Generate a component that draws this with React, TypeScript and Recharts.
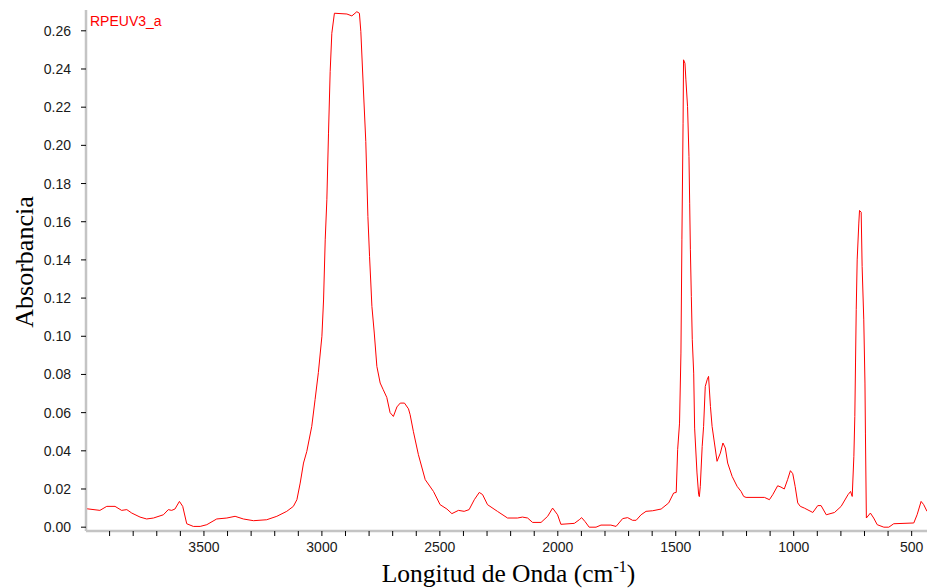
import React from "react";
import { LineChart, Line, XAxis, YAxis } from "recharts";

const wavenumbers: number[] = [
  4000, 3941, 3912, 3877, 3849, 3827, 3806, 3771, 3743, 3714, 3672, 3651, 3637, 3623, 3604, 3590, 3573, 3545, 3516, 3488,
  3446, 3403, 3368, 3333, 3290, 3234, 3191, 3149, 3121, 3106, 3092, 3078, 3064, 3043, 3029, 3015, 3000, 2993, 2986, 2979,
  2972, 2965, 2958, 2947, 2894, 2873, 2852, 2841, 2835, 2824, 2814, 2805, 2798, 2788, 2778, 2767, 2753, 2740, 2725, 2711,
  2697, 2682, 2668, 2650, 2633, 2626, 2612, 2591, 2562, 2527, 2499, 2470, 2449, 2421, 2397, 2376, 2354, 2333, 2319, 2298,
  2256, 2213, 2171, 2150, 2128, 2107, 2071, 2043, 2022, 2001, 1987, 1930, 1909, 1899, 1885, 1867, 1838, 1817, 1775, 1753,
  1725, 1704, 1683, 1668, 1647, 1626, 1598, 1562, 1530, 1509, 1498, 1492, 1484, 1478, 1474, 1469, 1467, 1461, 1457, 1450,
  1444, 1441, 1438, 1434, 1430, 1424, 1420, 1410, 1403, 1400, 1396, 1388, 1382, 1375, 1367, 1361, 1353, 1346, 1336, 1325,
  1311, 1300, 1290, 1280, 1261, 1240, 1223, 1212, 1202, 1124, 1103, 1089, 1068, 1054, 1040, 1026, 1014, 1004, 994, 983,
  972, 955, 919, 898, 884, 862, 827, 799, 770, 759, 752, 745, 741, 738, 735, 731, 724, 721, 714, 710,
  703, 698, 696, 692, 675, 661, 646, 618, 597, 576, 491, 477, 460, 449, 435,
];

const absorbance: number[] = [
  0.0097, 0.0088, 0.0109, 0.0109, 0.0088, 0.0092, 0.0074, 0.0053, 0.0043, 0.0048, 0.0065, 0.0092, 0.0088, 0.0095, 0.0135, 0.0109, 0.0018, 0.0004, 0.0004, 0.0013,
  0.0043, 0.0048, 0.0057, 0.0043, 0.0034, 0.0039, 0.0057, 0.0083, 0.0109, 0.0144, 0.0231, 0.0336, 0.0397, 0.0528, 0.0668, 0.081, 0.1, 0.119, 0.1505, 0.1715,
  0.2064, 0.2386, 0.2587, 0.2692, 0.2688, 0.2678, 0.27, 0.2692, 0.2596, 0.229, 0.202, 0.1627, 0.1418, 0.1156, 0.1017, 0.0842, 0.0755, 0.072, 0.068, 0.06,
  0.058, 0.063, 0.065, 0.065, 0.062, 0.0589, 0.05, 0.038, 0.0249, 0.0187, 0.0118, 0.0095, 0.0071, 0.0088, 0.0083, 0.0092, 0.0144, 0.0182, 0.0171, 0.0118,
  0.0083, 0.0048, 0.0048, 0.0053, 0.0048, 0.0025, 0.0025, 0.0057, 0.01, 0.0065, 0.0015, 0.002, 0.0039, 0.005, 0.003, 0.0, 0.0, 0.0011, 0.0011, 0.0004,
  0.0045, 0.005, 0.0036, 0.0036, 0.0065, 0.0083, 0.0086, 0.0095, 0.0127, 0.0179, 0.0182, 0.0406, 0.0545, 0.0912, 0.1505, 0.2116, 0.2448, 0.243, 0.2343, 0.2203,
  0.1941, 0.1697, 0.1453, 0.1208, 0.0982, 0.0807, 0.0519, 0.0284, 0.017, 0.016, 0.0214, 0.0423, 0.0528, 0.0737, 0.0772, 0.079, 0.0632, 0.0528, 0.0441, 0.0345,
  0.0388, 0.0441, 0.0415, 0.0336, 0.0266, 0.0214, 0.0187, 0.0161, 0.0156, 0.0156, 0.0144, 0.017, 0.0217, 0.021, 0.02, 0.0249, 0.0296, 0.028, 0.0214, 0.0127,
  0.0109, 0.01, 0.0077, 0.0113, 0.0113, 0.0065, 0.0077, 0.0109, 0.017, 0.0187, 0.0161, 0.0371, 0.058, 0.086, 0.1139, 0.14, 0.1593, 0.1659, 0.165, 0.1365,
  0.1086, 0.0755, 0.0493, 0.0048, 0.0074, 0.0048, 0.0013, 0.0, 0.0, 0.0018, 0.0022, 0.0065, 0.0135, 0.0118, 0.0083,
];

const xTicks: number[] = [
  3900, 3800, 3700, 3600, 3500, 3400, 3300, 3200, 3100, 3000, 2900, 2800, 2700, 2600, 2500, 2400, 2300, 2200, 2100, 2000,
  1900, 1800, 1700, 1600, 1500, 1400, 1300, 1200, 1100, 1000, 900, 800, 700, 600, 500,
];
const yTicks: number[] = [0, 0.02, 0.04, 0.06, 0.08, 0.1, 0.12, 0.14, 0.16, 0.18, 0.2, 0.22, 0.24, 0.26];

const seriesName = "RPEUV3_a";
const xTitle = "Longitud de Onda (cm";
const xTitleSup = "-1";
const yTitle = "Absorbancia";

const data = wavenumbers.map((w, i) => ({ w, a: absorbance[i] }));

const tickFont = { fontFamily: "'Liberation Sans', Arial, sans-serif", fontSize: 14, fill: "#1a1a1a" };
const titleFont = "'Liberation Serif', 'Times New Roman', serif";

const XTitle = (props: any) => {
  const vb = props.viewBox || {};
  const cx = (vb.x ?? 86) + (vb.width ?? 841) / 2;
  return (
    <text x={cx + 2} y={582} textAnchor="middle" fontFamily={titleFont} fontSize={25.5} fill="#000">
      <tspan>{xTitle}</tspan>
      <tspan fontSize={16} dy={-10}>{xTitleSup}</tspan>
      <tspan dy={10}>)</tspan>
    </text>
  );
};

const YTitle = () => (
  <text
    x={33}
    y={262}
    textAnchor="middle"
    transform="rotate(-90, 33, 262)"
    fontFamily={titleFont}
    fontSize={26}
    fill="#000"
  >
    {yTitle}
  </text>
);

export default function App() {
  return (
    <div style={{ position: "absolute", left: 0, top: 0, width: 927, height: 588, background: "#fff" }}>
      <LineChart width={927} height={588} data={data} margin={{ top: 10, right: 0, bottom: 0, left: 0 }}>
        <XAxis
          dataKey="w"
          type="number"
          domain={[435, 4000]}
          reversed
          allowDataOverflow
          ticks={xTicks}
          interval={0}
          tickFormatter={(v: number) => (v % 500 === 0 ? String(v) : "")}
          height={57}
          tickSize={5}
          tickMargin={6}
          tick={tickFont}
          axisLine={{ stroke: "#c4c4c4", strokeWidth: 2.5 }}
          tickLine={{ stroke: "#000" }}
          label={{ content: (p: any) => <XTitle {...p} /> }}
        />
        <YAxis
          type="number"
          domain={[-0.002, 0.2709]}
          allowDataOverflow
          ticks={yTicks}
          interval={0}
          tickFormatter={(v: number) => v.toFixed(2)}
          width={86}
          tickSize={5}
          tickMargin={10}
          tick={tickFont}
          axisLine={{ stroke: "#c4c4c4", strokeWidth: 2.5 }}
          tickLine={{ stroke: "#000" }}
          label={{ content: () => <YTitle /> }}
        />
        <Line
          dataKey="a"
          type="linear"
          stroke="#ff0000"
          strokeWidth={1}
          dot={false}
          activeDot={false}
          isAnimationActive={false}
        />
      </LineChart>
      <div
        style={{
          position: "absolute",
          left: 90,
          top: 13,
          color: "#ff0000",
          fontFamily: "'Liberation Sans', Arial, sans-serif",
          fontSize: 14,
          lineHeight: "17px",
          whiteSpace: "nowrap",
        }}
      >
        {seriesName}
      </div>
    </div>
  );
}
